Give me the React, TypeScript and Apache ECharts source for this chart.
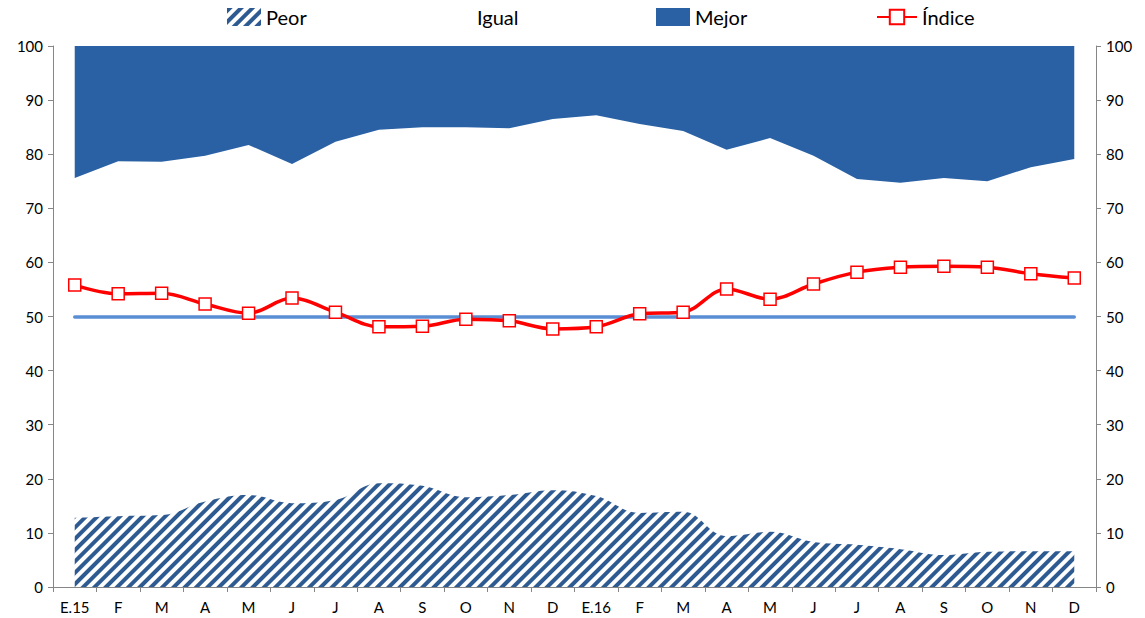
import React, { useEffect, useRef } from 'react';
import * as echarts from 'echarts';

const categories = ['E.15', 'F', 'M', 'A', 'M', 'J', 'J', 'A', 'S', 'O', 'N', 'D', 'E.16', 'F', 'M', 'A', 'M', 'J', 'J', 'A', 'S', 'O', 'N', 'D'];
const peor = [12.8, 13.1, 13.3, 15.8, 17.0, 15.5, 16.1, 19.2, 18.7, 16.6, 17.0, 17.9, 16.8, 13.7, 13.9, 9.4, 10.2, 8.3, 7.8, 7.0, 5.9, 6.5, 6.6, 6.6];
const igual = [62.8, 65.6, 65.3, 63.9, 64.7, 62.7, 66.2, 65.3, 66.3, 68.4, 67.8, 68.6, 70.4, 71.9, 70.4, 71.4, 72.8, 71.4, 67.6, 67.7, 69.7, 68.5, 71.0, 72.5];
const mejor = [24.4, 21.3, 21.4, 20.3, 18.3, 21.8, 17.7, 15.5, 15.0, 15.0, 15.2, 13.5, 12.8, 14.4, 15.7, 19.2, 17.0, 20.3, 24.6, 25.3, 24.4, 25.0, 22.4, 20.9];
const indice = [55.8, 54.2, 54.3, 52.3, 50.6, 53.4, 50.8, 48.1, 48.2, 49.5, 49.2, 47.7, 48.1, 50.5, 50.8, 55.1, 53.2, 56.0, 58.2, 59.1, 59.3, 59.1, 57.9, 57.1];
const umbral = 50;
const yTicks = { min: 0, max: 100, interval: 10 };

const FONT = 'Lato, "Noto Sans", sans-serif';
const BLUE = '#2961A4';
const STRIPE = '#2E5A92';

export default function App() {
  const ref = useRef<HTMLDivElement>(null);
  useEffect(() => {
    document.body.style.margin = '0';
    const chart = echarts.init(ref.current!, null, { renderer: 'svg' });
    const legendBase = {
      top: 2,
      itemGap: 0,
      itemWidth: 34,
      itemHeight: 18,
      textStyle: { fontFamily: FONT, fontSize: 20, color: '#000' },
      selectedMode: false,
    };
    const yAxisBase = {
      type: 'value',
      min: yTicks.min,
      max: yTicks.max,
      interval: yTicks.interval,
      splitLine: { show: false },
      axisLine: { show: true, lineStyle: { color: '#868686', width: 1 } },
      axisTick: { show: true, length: 5, lineStyle: { color: '#868686' } },
      axisLabel: { fontFamily: FONT, fontSize: 15, color: '#000', margin: 10 },
    };
    chart.setOption({
      animation: false,
      legend: [
        { ...legendBase, left: 222, data: [{ name: 'Peor', icon: 'rect' }] },
        { ...legendBase, left: 433, data: [{ name: 'Igual', icon: 'rect', itemStyle: { color: '#fff', opacity: 0 } }] },
        { ...legendBase, left: 651, data: [{ name: 'Mejor', icon: 'rect' }] },
        { ...legendBase, left: 871, itemWidth: 40, data: [{ name: 'Índice' }] },
      ],
      grid: { left: 53, right: 49, top: 46, bottom: 31 },
      xAxis: {
        type: 'category',
        data: categories,
        boundaryGap: true,
        axisLine: { lineStyle: { color: '#868686', width: 1 } },
        axisTick: { show: true, length: 5, alignWithLabel: false, lineStyle: { color: '#868686' } },
        axisLabel: { fontFamily: FONT, fontSize: 15, color: '#000', margin: 12, interval: 0 },
      },
      yAxis: [
        { ...yAxisBase, position: 'left' },
        { ...yAxisBase, position: 'right' },
      ],
      series: [
        {
          name: 'Peor',
          type: 'line',
          stack: 'total',
          smooth: 0.4,
          symbol: 'none',
          lineStyle: { width: 0 },
          itemStyle: {
            color: '#fff',
            decal: {
              symbol: 'rect',
              color: STRIPE,
              dashArrayX: [1, 0],
              dashArrayY: [4, 4],
              rotation: -Math.PI / 4,
            },
          },
          areaStyle: { color: '#fff', opacity: 1 },
          data: peor,
          z: 2,
        },
        {
          name: 'Igual',
          type: 'line',
          stack: 'total',
          symbol: 'none',
          lineStyle: { width: 0 },
          itemStyle: { color: '#fff' },
          areaStyle: { opacity: 0 },
          data: igual,
          z: 2,
          markLine: {
            silent: true,
            symbol: 'none',
            label: { show: false },
            lineStyle: { color: '#5A8ED4', width: 3.5, type: 'solid', cap: 'round' },
            data: [[{ coord: [0, umbral] }, { coord: [categories.length - 1, umbral] }]],
          },
        },
        {
          name: 'Mejor',
          type: 'line',
          stack: 'total',
          symbol: 'none',
          lineStyle: { width: 0 },
          itemStyle: { color: BLUE },
          areaStyle: { color: BLUE, opacity: 1 },
          data: mejor,
          z: 2,
        },
        {
          name: 'Índice',
          type: 'line',
          smooth: 0.35,
          symbol: 'rect',
          symbolSize: 12,
          lineStyle: { color: '#FF0000', width: 3.5 },
          itemStyle: { color: '#fff', borderColor: '#FF0000', borderWidth: 1.5 },
          data: indice,
          z: 5,
        },
      ],
    });
    return () => chart.dispose();
  }, []);
  return <div ref={ref} style={{ width: 1145, height: 618 }} />;
}
